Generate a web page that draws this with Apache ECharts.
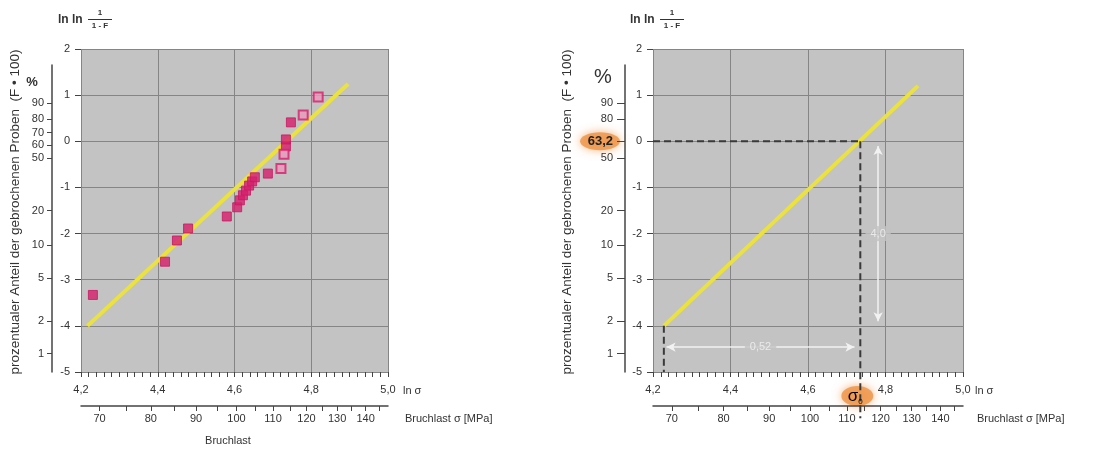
<!DOCTYPE html>
<html><head><meta charset="utf-8">
<script src="https://cdn.jsdelivr.net/npm/echarts@6/dist/echarts.min.js"></script>
<style>html,body{margin:0;padding:0;background:#fff}#c{width:1097px;height:449px}</style>
</head><body><div id="c"></div>
<script>
// ---- data ----
const filledLnSigma = [4.231, 4.419, 4.450, 4.479, 4.580, 4.607, 4.614, 4.622, 4.630, 4.638, 4.646, 4.653, 4.687, 4.734, 4.734, 4.747];
const filledLnLn    = [-3.33, -2.61, -2.15, -1.89, -1.63, -1.43, -1.28, -1.17, -1.07, -0.96, -0.87, -0.78, -0.70, -0.11, 0.04, 0.41];
const openLnSigma   = [4.721, 4.729, 4.779, 4.818];
const openLnLn      = [-0.59, -0.28, 0.57, 0.96];
const fitLeftX  = [4.217, 4.896];
const fitLeftY  = [-4, 1.24];
const fitRightX = [4.228, 4.884];
const fitRightY = [-4, 1.2];
const sigma0Ln = 4.735;       // ln(114 MPa)
const startLn = 4.228;
const mpaLabels = [70, 80, 90, 100, 110, 120, 130, 140];
const mpaTicks  = [70, 75, 80, 85, 90, 95, 100, 105, 110, 115, 120, 125, 130, 135, 140, 145];
const pctLeft   = [1, 2, 5, 10, 20, 50, 60, 70, 80, 90];
const pctRight  = [1, 2, 5, 10, 20, 50, 63.2, 80, 90];
const dxArrowX = [4.235, 4.72], dxArrowY = -4.46, dxText = '0,52';
const dyArrowX = 4.781, dyArrowY = [-0.1, -3.9], dyText = '4,0';
const pctAxisMax = 1.653;

const FONT = '"Liberation Sans", Arial, sans-serif';
const lnlnOf = p => Math.log(-Math.log(1 - p / 100));
const comma = v => String(v).replace('.', ',');

const chart = echarts.init(document.getElementById('c'));

function mainX(g) {
  return {
    type: 'value', gridIndex: g, min: 4.2, max: 5.0, interval: 0.2, position: 'bottom',
    axisLine: { show: false, onZero: false },
    axisTick: { show: true, length: 5, lineStyle: { color: '#444', width: 1 } },
    minorTick: { show: true, splitNumber: 10, length: 5, lineStyle: { color: '#444', width: 1 } },
    splitLine: { show: true, lineStyle: { color: '#858585', width: 1 } },
    axisLabel: { margin: 12, color: '#333', fontSize: 11, fontFamily: FONT, formatter: v => v.toFixed(1).replace('.', ',') }
  };
}
function mpaX(g) {
  return {
    type: 'value', gridIndex: g, min: 4.2, max: 5.0, position: 'bottom', offset: 34,
    axisLine: { show: true, onZero: false, lineStyle: { color: '#444', width: 1.5 } },
    axisTick: { show: true, length: 5, inside: false, customValues: mpaTicks.map(Math.log), lineStyle: { color: '#444' } },
    splitLine: { show: false },
    axisLabel: { margin: 7, color: '#333', fontSize: 11, fontFamily: FONT, customValues: mpaLabels.map(Math.log), formatter: v => String(Math.round(Math.exp(v))) }
  };
}
function dummyX(g) { return { type: 'value', gridIndex: g, show: false, min: 0, max: 1, axisLine: { onZero: false } }; }
function mainY(g) {
  return {
    type: 'value', gridIndex: g, min: -5, max: 2, interval: 1,
    axisLine: { show: false, onZero: false },
    axisTick: { show: true, length: 6, lineStyle: { color: '#444' } },
    splitLine: { show: true, lineStyle: { color: '#858585', width: 1 } },
    axisLabel: { margin: 11, color: '#333', fontSize: 11, fontFamily: FONT }
  };
}
function pctY(g, list, tickLen, margin) {
  return {
    type: 'value', gridIndex: g, min: -5, max: pctAxisMax, position: 'left',
    axisLine: { show: true, onZero: false, lineStyle: { color: '#444', width: 1.5 } },
    axisTick: { show: true, length: tickLen, customValues: list.map(lnlnOf), lineStyle: { color: '#444' } },
    splitLine: { show: false },
    axisLabel: {
      margin: margin, color: '#333', fontSize: 11, fontFamily: FONT, customValues: list.map(lnlnOf),
      formatter: v => {
        const p = Math.round((1 - Math.exp(-Math.exp(v))) * 1000) / 10;
        return p === 63.2 ? '{h|' + comma(p) + '}' : comma(p);
      },
      rich: { h: { fontSize: 13, fontWeight: 'bold', color: '#222', fontFamily: FONT } }
    }
  };
}

const dash = { color: '#3a3a3a', width: 2, type: [7, 4] };
function dashSeries(xs, ys) {
  return { type: 'line', xAxisIndex: 3, yAxisIndex: 2, data: xs.map((x, i) => [x, ys[i]]), symbol: 'none', clip: false, lineStyle: dash, z: 4, silent: true };
}

const option = {
  animation: false,
  backgroundColor: '#fff',
  grid: [
    { left: 81, top: 49, width: 307, height: 323, show: true, backgroundColor: '#c3c3c3', borderWidth: 0 },
    { left: 52, top: 65, width: 1, height: 307, show: false },
    { left: 653, top: 49, width: 310, height: 323, show: true, backgroundColor: '#c3c3c3', borderWidth: 0 },
    { left: 625, top: 65, width: 1, height: 307, show: false }
  ],
  xAxis: [mainX(0), mpaX(0), dummyX(1), mainX(2), mpaX(2), dummyX(3)],
  yAxis: [mainY(0), pctY(1, pctLeft, 5, 8), mainY(2), pctY(3, pctRight, 8, 12)],
  series: [
    { type: 'line', xAxisIndex: 0, yAxisIndex: 0, data: fitLeftX.map((x, i) => [x, fitLeftY[i]]), symbol: 'none', lineStyle: { color: '#ece23c', width: 4 }, z: 2 },
    { type: 'scatter', xAxisIndex: 0, yAxisIndex: 0, data: filledLnSigma.map((x, i) => [x, filledLnLn[i]]), symbol: 'rect', symbolSize: 9, itemStyle: { color: '#d41f6c', borderColor: '#c81862', borderWidth: 1 }, z: 3 },
    { type: 'scatter', xAxisIndex: 0, yAxisIndex: 0, data: openLnSigma.map((x, i) => [x, openLnLn[i]]), symbol: 'rect', symbolSize: 9, itemStyle: { color: '#e99abb', borderColor: '#d41f6c', borderWidth: 2 }, z: 3 },
    { type: 'line', xAxisIndex: 3, yAxisIndex: 2, data: fitRightX.map((x, i) => [x, fitRightY[i]]), symbol: 'none', lineStyle: { color: '#ece23c', width: 4 }, z: 2 },
    dashSeries([4.2, sigma0Ln], [0, 0]),
    dashSeries([sigma0Ln, sigma0Ln], [0, -6.0]),
    dashSeries([startLn, startLn], [-4, -5]),
    {
      type: 'line', xAxisIndex: 3, yAxisIndex: 2, data: [], symbol: 'none', silent: true,
      markLine: {
        silent: true, symbol: ['arrow', 'arrow'], symbolSize: [7, 9], animation: false,
        lineStyle: { color: '#f2f2f2', width: 1.5, type: 'solid' }, label: { show: false },
        data: [
          [{ coord: [dxArrowX[0], dxArrowY] }, { coord: [dxArrowX[1], dxArrowY] }],
          [{ coord: [dyArrowX, dyArrowY[0]] }, { coord: [dyArrowX, dyArrowY[1]] }]
        ]
      }
    },
    {
      type: 'scatter', xAxisIndex: 3, yAxisIndex: 2, symbolSize: 1, itemStyle: { color: 'rgba(0,0,0,0)' }, z: 5, silent: true,
      data: [
        { value: [(dxArrowX[0] + dxArrowX[1]) / 2, dxArrowY], name: dxText },
        { value: [dyArrowX, (dyArrowY[0] + dyArrowY[1]) / 2], name: dyText }
      ],
      label: { show: true, position: 'inside', formatter: p => p.name, color: '#f4f4f4', fontSize: 11, fontFamily: FONT, backgroundColor: '#c3c3c3', padding: [2, 5] }
    }
  ]
};
chart.setOption(option);

// decorative texts & highlights
function title(x0) {
  return [
    { type: 'text', x: x0, y: 20, style: { text: 'ln ln', font: 'bold 12px ' + FONT, fill: '#333', align: 'left', verticalAlign: 'middle' } },
    { type: 'text', x: x0 + 42, y: 13, style: { text: '1', font: 'bold 8px ' + FONT, fill: '#333', align: 'center', verticalAlign: 'middle' } },
    { type: 'line', shape: { x1: x0 + 30, y1: 19.5, x2: x0 + 54, y2: 19.5 }, style: { stroke: '#333', lineWidth: 1 } },
    { type: 'text', x: x0 + 42, y: 26, style: { text: '1 - F', font: 'bold 8px ' + FONT, fill: '#333', align: 'center', verticalAlign: 'middle' } }
  ];
}
const yName = 'prozentualer Anteil der gebrochenen Proben  (F • 100)';
function txt(x, y, text, size, extra) {
  return Object.assign({ type: 'text', x, y, style: { text, font: size + 'px ' + FONT, fill: '#333', align: 'left', verticalAlign: 'middle' } }, extra || {});
}
const glowStyle = { fill: 'rgba(238,150,75,0.85)', shadowBlur: 10, shadowColor: 'rgba(240,160,90,0.9)' };
const sx = chart.convertToPixel({ xAxisIndex: 3 }, sigma0Ln);
const y63 = chart.convertToPixel({ yAxisIndex: 3 }, lnlnOf(63.2));

const graphics = [].concat(
  title(58), title(630),
  [
    { type: 'ellipse', z: 0, shape: { cx: 600, cy: y63, rx: 20, ry: 9 }, style: Object.assign({}, glowStyle) },
    { type: 'ellipse', z: 0, shape: { cx: sx - 3, cy: 396, rx: 16, ry: 10 }, style: Object.assign({}, glowStyle) },
    { type: 'text', z: 10, x: sx - 5, y: 396, style: { text: '{s|σ}{b|0}', align: 'center', verticalAlign: 'middle', rich: { s: { fontSize: 17, fontFamily: FONT, color: '#222' }, b: { fontSize: 8, fontFamily: FONT, color: '#222', padding: [12, 0, 0, 0] } } } },
    txt(32, 82, '%', 13, {}),
    txt(603, 77, '%', 20, {}),
    txt(15, 212, yName, 13.5, {}),
    txt(567, 212, yName, 13.5, {}),
    txt(403, 391, 'ln σ', 11),
    txt(975, 391, 'ln σ', 11),
    txt(405, 419, 'Bruchlast σ [MPa]', 11),
    txt(977, 419, 'Bruchlast σ [MPa]', 11),
    txt(228, 441, 'Bruchlast', 11)
  ]
);
graphics.forEach(g => {
  if (g.style && g.style.text === yName) { g.rotation = Math.PI / 2; g.style.align = 'center'; }
  if (g.style && g.style.text === '%') { g.style.align = 'center'; g.style.font = (g.x < 100 ? 'bold 13px ' : '20px ') + FONT; }
  if (g.style && g.style.text === 'Bruchlast') { g.style.align = 'center'; }
});
chart.setOption({ graphic: graphics });
</script>
</body></html>
